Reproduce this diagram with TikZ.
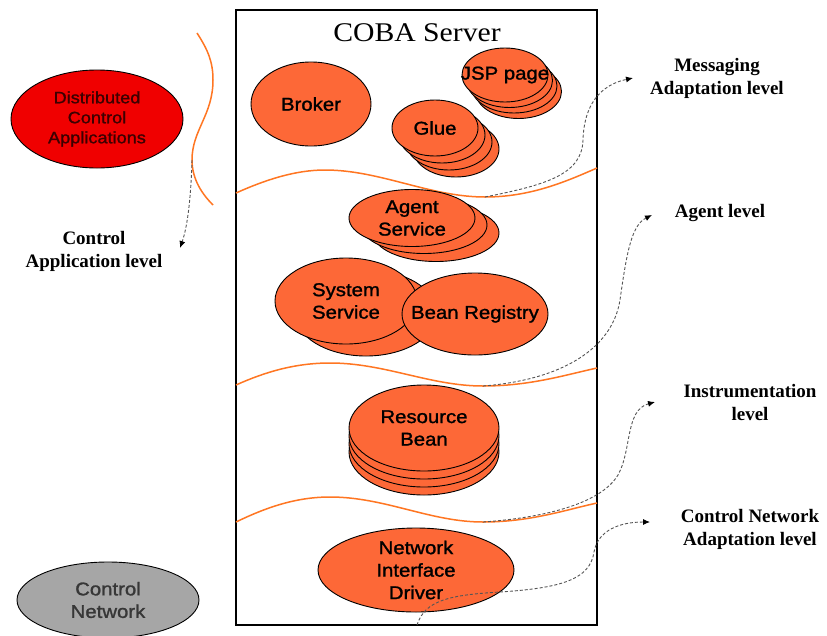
\documentclass[tikz,border=0pt]{standalone}
\usepackage{fontspec}
\usetikzlibrary{shapes.geometric,arrows.meta}
\setmainfont{Liberation Serif}
\newfontfamily\sansf[FakeStretch=1.1,FakeBold=1.3]{Liberation Sans}
\newfontfamily\titlef[FakeStretch=1.1]{Liberation Serif}
\definecolor{ofill}{RGB}{253,104,55}
\definecolor{oline}{RGB}{255,118,34}
\definecolor{rfill}{RGB}{240,0,0}
\definecolor{rtext}{RGB}{60,0,0}
\definecolor{gfill}{RGB}{166,166,166}
\definecolor{gtext}{RGB}{55,55,55}
\definecolor{dashgray}{RGB}{85,85,85}
\begin{document}
\begin{tikzpicture}[x=1pt,y=-1pt,
  ell/.style={ellipse, draw=black, line width=0.9pt, fill=ofill, inner sep=0pt, align=center, font=\sansf\fontsize{18.5}{22.5}\selectfont},
  wave/.style={draw=oline, line width=1.5pt},
  lvl/.style={draw=dashgray, line width=0.9pt, dash pattern=on 3pt off 2pt, -{Latex[length=7pt,width=6pt,color=black]}},
  lbl/.style={align=center, font=\bfseries\fontsize{19}{23}\selectfont, inner sep=0pt}
]
\useasboundingbox (0,0) rectangle (827,635);
\fill[white] (0,0) rectangle (827,635);

% server box
\draw[line width=1.2pt] (236,10) rectangle (597,625);
\node[font=\titlef\fontsize{27}{30}\selectfont, inner sep=0pt] (title) at (417,33) {COBA Server};

% orange waves
\draw[wave] (197,33) .. controls (208,50) and (213,62) .. (213,80) .. controls (213,115) and (192,130) .. (192,160) .. controls (192,180) and (203,195) .. (213,205);
\draw[wave] (236,193) .. controls (265,180) and (295,170) .. (325,170) .. controls (380,170) and (430,197) .. (485,197) .. controls (530,197) and (565,182) .. (597,168);
\draw[wave] (236,385) .. controls (265,372) and (295,363) .. (330,363) .. controls (385,363) and (430,386) .. (483,386) .. controls (530,386) and (565,375) .. (597,368);
\draw[wave] (236,522) .. controls (265,508) and (295,497) .. (330,497) .. controls (385,497) and (430,522) .. (483,522) .. controls (530,522) and (565,510) .. (597,503);

% outside ellipses
\node[ell, fill=rfill, minimum width=172pt, minimum height=98pt, text=rtext, font=\sansf\fontsize{16.5}{20}\selectfont] (dca) at (97,119) {Distributed\\Control\\Applications};
\node[ell, fill=gfill, minimum width=182pt, minimum height=76pt, text=gtext] (cn) at (108,600) {Control\\Network};

% Broker
\node[ell, minimum width=120pt, minimum height=84pt] (broker) at (311,104) {Broker};

% JSP page stack
\node[ell, minimum width=86pt, minimum height=54pt] (jsp3) at (518.5,91.5) {};
\node[ell, minimum width=86pt, minimum height=54pt] (jsp2) at (514,86) {};
\node[ell, minimum width=86pt, minimum height=54pt] (jsp1) at (509.5,80.5) {};
\node[ell, minimum width=86pt, minimum height=54pt] (jsp) at (505,75) {\makebox[0pt]{JSP page}};

% Glue stack
\node[ell, minimum width=86pt, minimum height=56pt] (glue3) at (456,149) {};
\node[ell, minimum width=86pt, minimum height=56pt] (glue2) at (449,142) {};
\node[ell, minimum width=86pt, minimum height=56pt] (glue1) at (442,135) {};
\node[ell, minimum width=86pt, minimum height=56pt] (glue) at (435,128) {Glue};

% Agent Service stack
\node[ell, minimum width=126pt, minimum height=57pt] (agent2) at (436,233) {};
\node[ell, minimum width=126pt, minimum height=57pt] (agent1) at (424,225) {};
\node[ell, minimum width=126pt, minimum height=57pt] (agent) at (412,218) {\makebox[0pt]{Agent}\\\makebox[0pt]{Service}};

% System Service and Bean Registry
\node[ell, minimum width=142pt, minimum height=86pt] (sys1) at (366,313) {};
\node[ell, minimum width=142pt, minimum height=86pt] (sys) at (346,301) {System\\Service};
\node[ell, minimum width=146pt, minimum height=82pt] (bean) at (475,314) {\makebox[0pt]{Bean Registry}};

% Resource Bean stack
\node[ell, minimum width=150pt, minimum height=86pt] (res3) at (424,452) {};
\node[ell, minimum width=150pt, minimum height=86pt] (res2) at (424,444) {};
\node[ell, minimum width=150pt, minimum height=86pt] (res1) at (424,436) {};
\node[ell, minimum width=150pt, minimum height=86pt] (res) at (424,428) {Resource\\Bean};

% Network Interface Driver
\node[ell, minimum width=196pt, minimum height=84pt] (nid) at (416,570) {Network\\Interface\\Driver};

% level labels
\node[lbl] (cal) at (94,251) {Control\\Application level};
\node[lbl] (mal) at (717,78) {Messaging\\Adaptation level};
\node[lbl] (agl) at (720,213) {Agent level};
\node[lbl] (inl) at (750,402) {Instrumentation\\level};
\node[lbl] (cnl) at (750,529) {Control Network\\Adaptation level};

% connector coordinates
\coordinate (caS) at (192,160);
\coordinate (caT) at (180,248);
\coordinate (maS) at (485,197);
\coordinate (maT) at (633,78);
\coordinate (agS) at (483,386);
\coordinate (agT) at (652,215);
\coordinate (inS) at (483,522);
\coordinate (inT) at (655,402);
\coordinate (cnS) at (417,625);
\coordinate (cnT) at (650,522);

% dashed level arrows
\draw[lvl] (caS) .. controls (191,195) and (188,225) .. (caT);
\draw[lvl] (maS) .. controls (545,185) and (582,175) .. (583,140) .. controls (584,105) and (600,85) .. (maT);
\draw[lvl] (agS) .. controls (560,380) and (612,350) .. (620,300) .. controls (627,250) and (632,225) .. (agT);
\draw[lvl] (inS) .. controls (540,518) and (600,505) .. (618,475) .. controls (632,450) and (625,410) .. (inT);
\draw[lvl] (cnS) .. controls (425,600) and (450,595) .. (500,592) .. controls (560,588) and (590,580) .. (594,552) .. controls (598,530) and (620,522) .. (cnT);
\end{tikzpicture}
\end{document}
